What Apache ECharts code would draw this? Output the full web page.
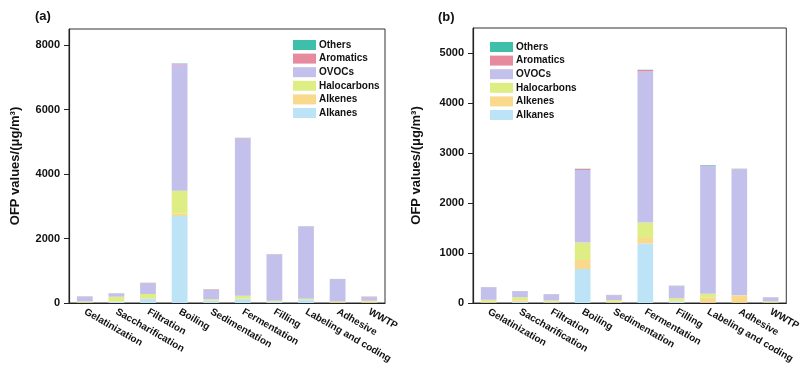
<!DOCTYPE html>
<html>
<head>
<meta charset="utf-8">
<title>OFP values</title>
<script src="https://cdn.jsdelivr.net/npm/echarts@6/dist/echarts.min.js"></script>
<style>
  html, body { margin: 0; padding: 0; background: #fff; }
  #chart { width: 803px; height: 374px; }
</style>
</head>
<body>
<div id="chart"></div>
<script>
// categories (same for both panels)
const stages = ['Gelatinization', 'Saccharification', 'Filtration', 'Boiling', 'Sedimentation',
  'Fermentation', 'Filling', 'Labeling and coding', 'Adhesive', 'WWTP']

// stack order, bottom to top
const groups = ['Alkanes', 'Alkenes', 'Halocarbons', 'OVOCs', 'Aromatics', 'Others']
const colors = ['#bde3f7', '#f9d98c', '#dfee84', '#c3c1ec', '#e58a9f', '#3dbfa9']

// panel (a)
const aAlkanes = [10, 40, 130, 2700, 60, 120, 30, 90, 10, 10]
const aAlkenes = [10, 15, 20, 70, 15, 15, 10, 10, 20, 30]
const aHalocarbons = [30, 140, 130, 710, 40, 90, 30, 30, 20, 30]
const aOVOCs = [150, 100, 330, 3920, 290, 4880, 1430, 2240, 690, 110]
const aAromatics = [5, 5, 15, 20, 15, 15, 10, 5, 5, 15]
const aOthers = [2, 2, 3, 10, 3, 5, 3, 3, 2, 3]

// panel (b)
const bAlkanes = [10, 25, 10, 680, 10, 1190, 30, 5, 5, 5]
const bAlkenes = [15, 30, 15, 180, 20, 110, 15, 100, 140, 10]
const bHalocarbons = [40, 60, 25, 350, 30, 310, 50, 80, 10, 20]
const bOVOCs = [245, 115, 120, 1450, 95, 3020, 240, 2560, 2520, 75]
const bAromatics = [5, 5, 5, 20, 5, 30, 5, 5, 5, 3]
const bOthers = [2, 3, 2, 5, 2, 5, 5, 10, 5, 2]

// y ticks
const aTicks = { max: 8500, interval: 2000 }
const bTicks = { max: 5500, interval: 1000 }

const panelA = [aAlkanes, aAlkenes, aHalocarbons, aOVOCs, aAromatics, aOthers]
const panelB = [bAlkanes, bAlkenes, bHalocarbons, bOVOCs, bAromatics, bOthers]

const font = 'Liberation Sans, Arial, sans-serif'
const legendOrder = groups.slice().reverse()

const makeSeries = (data, idx) => data.map((values, i) => ({
  name: groups[i],
  type: 'bar',
  stack: 'p' + idx,
  xAxisIndex: idx,
  yAxisIndex: idx,
  barWidth: '50%',
  itemStyle: { color: colors[i] },
  emphasis: { disabled: true },
  data: values
}))

const xAxisOf = (idx) => ({
  type: 'category',
  gridIndex: idx,
  data: stages,
  axisLine: { lineStyle: { color: '#222', width: 1.2 } },
  axisTick: { show: false },
  axisLabel: {
    interval: 0,
    rotate: -30,
    margin: 8,
    color: '#111',
    fontSize: 10,
    fontWeight: 'bold',
    fontFamily: font
  }
})

const yAxisOf = (idx, ticks, gap) => ({
  type: 'value',
  gridIndex: idx,
  min: 0,
  max: ticks.max,
  interval: ticks.interval,
  name: 'OFP values/(μg/m³)',
  nameLocation: 'middle',
  nameGap: gap,
  nameTextStyle: { color: '#111', fontSize: 13, fontWeight: 'bold', fontFamily: font },
  splitLine: { show: false },
  axisLine: { show: true, lineStyle: { color: '#222', width: 1.2 } },
  axisTick: { show: true, length: 5, lineStyle: { color: '#222' } },
  axisLabel: {
    showMaxLabel: false,
    margin: 9,
    color: '#111',
    fontSize: 11,
    fontWeight: 'bold',
    fontFamily: font,
    formatter: (v) => String(v)
  }
})

const legendOf = (left, top) => ({
  orient: 'vertical',
  left, top,
  icon: 'rect',
  itemWidth: 23,
  itemHeight: 10,
  itemGap: 3.6,
  selectedMode: false,
  data: legendOrder,
  textStyle: { color: '#111', fontSize: 10, fontWeight: 'bold', fontFamily: font, padding: [0, 0, 0, -2] }
})

const chart = echarts.init(document.getElementById('chart'))
chart.setOption({
  backgroundColor: '#fff',
  animation: false,
  title: [
    { text: '(a)', left: 30, top: 5, textStyle: { fontSize: 13, fontWeight: 'bold', fontFamily: font, color: '#111' } },
    { text: '(b)', left: 433, top: 6, textStyle: { fontSize: 13, fontWeight: 'bold', fontFamily: font, color: '#111' } }
  ],
  legend: [legendOf(288, 35), legendOf(485, 37)],
  grid: [
    { left: 69, right: 418, top: 29, bottom: 71, show: true, borderColor: '#333', borderWidth: 1 },
    { left: 473, right: 14, top: 28, bottom: 71, show: true, borderColor: '#333', borderWidth: 1 }
  ],
  xAxis: [xAxisOf(0), xAxisOf(1)],
  yAxis: [yAxisOf(0, aTicks, 47), yAxisOf(1, bTicks, 50)],
  series: [...makeSeries(panelA, 0), ...makeSeries(panelB, 1)]
})
</script>
</body>
</html>
